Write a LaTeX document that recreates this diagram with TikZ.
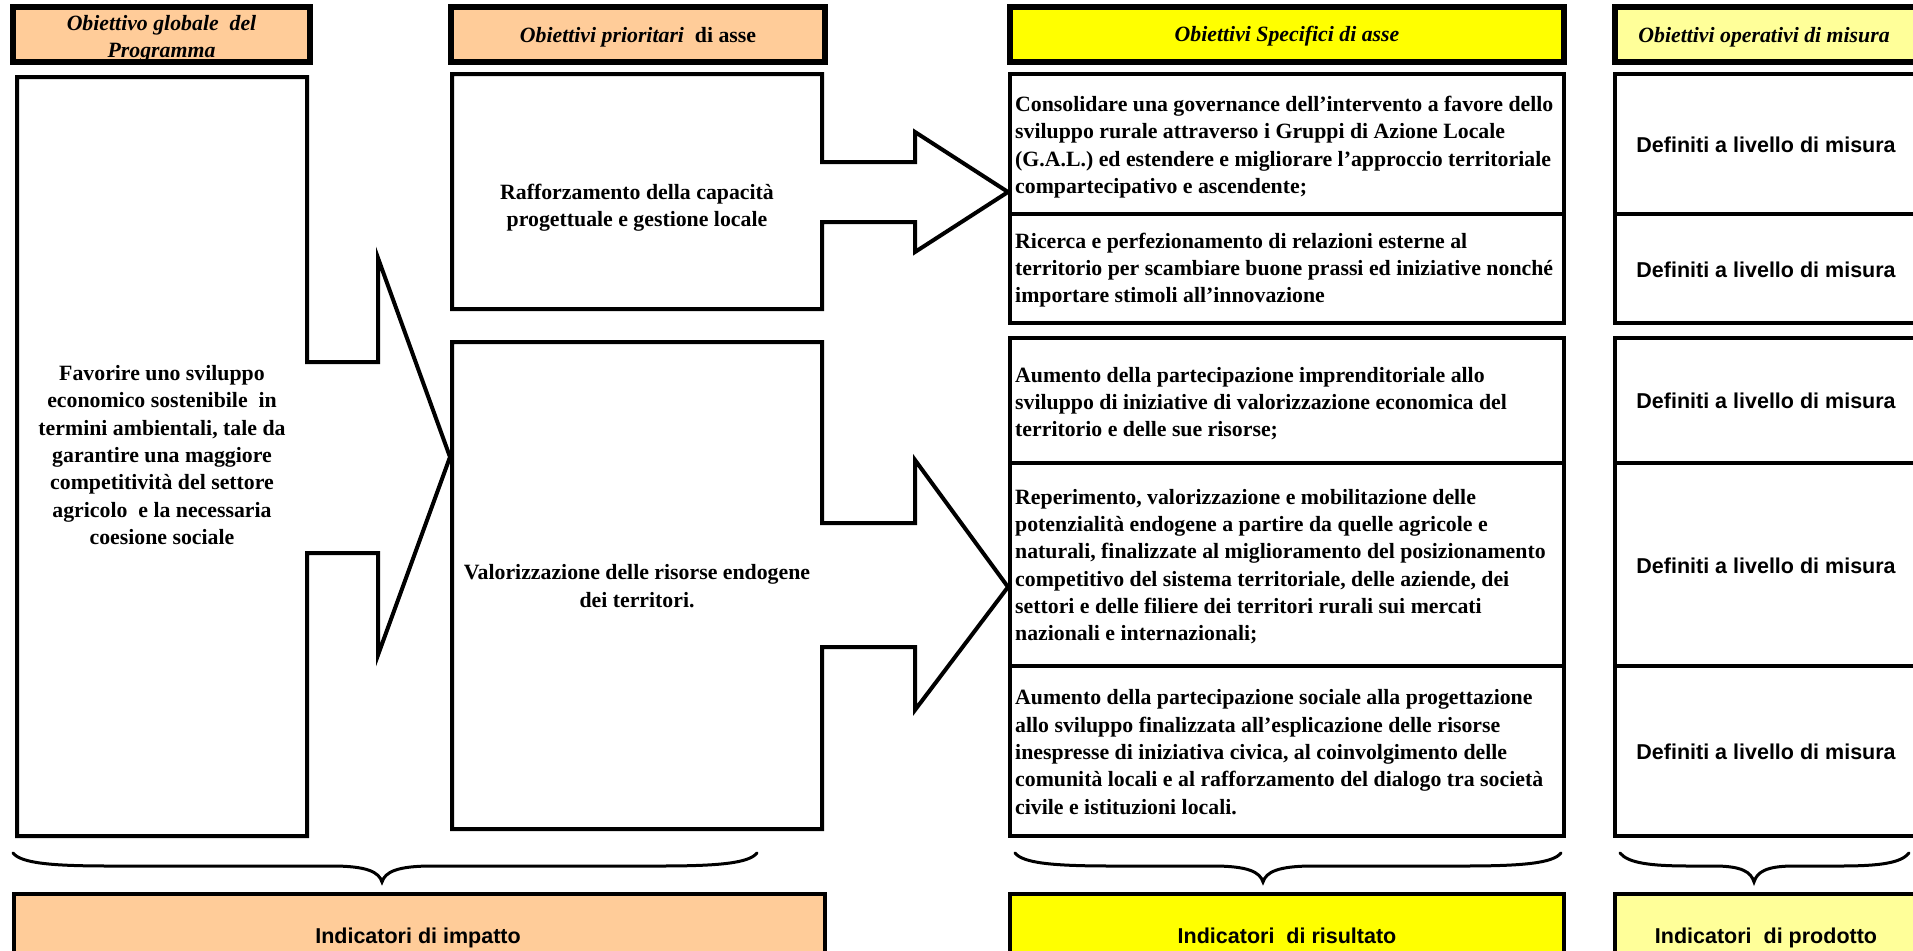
\documentclass[tikz,border=0pt]{standalone}
\usepackage{fontspec}
\setmainfont{Liberation Serif}
\newfontfamily\arialf{Liberation Sans}
\definecolor{peach}{HTML}{FFCC99}
\definecolor{yel}{HTML}{FFFF00}
\definecolor{lyel}{HTML}{FFFF99}
\tikzset{
  outline/.style={line width=4pt, line join=miter, miter limit=10},
  hdrbox/.style={draw, line width=5.5pt, inner sep=0pt, outer sep=0pt, anchor=north west},
  cellbox/.style={draw, line width=3.6pt, inner sep=0pt, outer sep=0pt, anchor=north west},
  btmbox/.style={draw, line width=4pt, inner sep=0pt, outer sep=0pt, anchor=north west},
  sertext/.style={inner sep=0pt, font=\fontsize{21.8}{27.3}\selectfont\bfseries},
  hdrtext/.style={inner sep=0pt, font=\fontsize{21.8}{27.3}\selectfont\bfseries\itshape},
  santext/.style={inner sep=0pt, font=\arialf\fontsize{21.5}{26}\selectfont\bfseries},
  bracepath/.style={line width=3pt, line cap=round}
}
\begin{document}
\begin{tikzpicture}[x=1pt, y=-1pt]
\useasboundingbox (0,0) rectangle (1913,950);
\clip (0,0) rectangle (1913,950);
\fill[white] (0,0) rectangle (1913,950);

% ---------- headers ----------
\node[hdrbox, fill=peach, minimum width=297, minimum height=55] (h1) at (13,7) {};
\node[hdrtext, align=center] (h1t) at (161.5,38.5) {Obiettivo globale~ del\\Programma};
\draw[line width=5.5pt] (h1.north west) rectangle (h1.south east);

\node[hdrbox, fill=peach, minimum width=374, minimum height=55] (h2) at (451,7) {};
\node[sertext, anchor=base] (h2t) at (638,43) {\textit{Obiettivi prioritari}~ di asse};

\node[hdrbox, fill=yel, minimum width=554, minimum height=55] (h3) at (1010,7) {};
\node[hdrtext, anchor=base] (h3t) at (1287,42) {Obiettivi Specifici di asse};

\node[hdrbox, fill=lyel, minimum width=310, minimum height=55] (h4) at (1615,7) {};
\node[hdrtext, anchor=base] (h4t) at (1764,43) {Obiettivi operativi di misura};

% ---------- left shape with block arrow ----------
\draw[outline] (17,77) coordinate (gtl) -- (307,77) -- (307,362) -- (378,362) -- (378,258)
  -- (450,457) coordinate (gtip) -- (378,655) -- (378,553) -- (307,553) -- (307,836)
  -- (17,836) -- cycle;
\node[sertext, align=center] (gtext) at (162,455) {Favorire uno sviluppo\\economico sostenibile~ in\\termini ambientali, tale da\\garantire una maggiore\\competitivit\`a del settore\\agricolo~ e la necessaria\\coesione sociale};

% ---------- priority objectives with block arrows ----------
\draw[outline] (452,74) -- (822,74) -- (822,162) -- (915,162) -- (915,132)
  -- (1008,192) coordinate (p1tip) -- (915,252) -- (915,222) -- (822,222) -- (822,309)
  -- (452,309) -- cycle;
\node[sertext, align=center] (p1text) at (637,208) {Rafforzamento della capacit\`a\\progettuale e gestione locale};

\draw[outline] (452,342) -- (822,342) -- (822,523) -- (915,523) -- (915,460)
  -- (1008,587) coordinate (p2tip) -- (915,710) -- (915,647) -- (822,647) -- (822,829)
  -- (452,829) -- cycle;
\node[sertext, align=center] (p2text) at (637,586) {Valorizzazione delle risorse endogene\\dei territori.};

% ---------- specific objectives ----------
\node[cellbox, minimum width=554, minimum height=140] (s1) at (1010,74) {};
\node[cellbox, minimum width=554, minimum height=109] (s2) at (1010,214) {};
\node[cellbox, minimum width=554, minimum height=125] (s3) at (1010,338) {};
\node[cellbox, minimum width=554, minimum height=203] (s4) at (1010,463) {};
\node[cellbox, minimum width=554, minimum height=170] (s5) at (1010,666) {};

\node[sertext, align=left, anchor=west] (s1t) at (1015,147) {Consolidare una governance dell’intervento a favore dello\\sviluppo rurale attraverso i Gruppi di Azione Locale\\(G.A.L.) ed estendere e migliorare l’approccio territoriale\\compartecipativo e ascendente;};
\node[sertext, align=left, anchor=west] (s2t) at (1015,270) {Ricerca e perfezionamento di relazioni esterne al\\territorio per scambiare buone prassi ed iniziative nonch\'e\\importare stimoli all’innovazione};
\node[sertext, align=left, anchor=west] (s3t) at (1015,403.5) {Aumento della partecipazione imprenditoriale allo\\sviluppo di iniziative di valorizzazione economica del\\territorio e delle sue risorse;};
\node[sertext, align=left, anchor=west] (s4t) at (1015,566.5) {Reperimento, valorizzazione e mobilitazione delle\\potenzialit\`a endogene a partire da quelle agricole e\\naturali, finalizzate al miglioramento del posizionamento\\competitivo del sistema territoriale, delle aziende, dei\\settori e delle filiere dei territori rurali sui mercati\\nazionali e internazionali;};
\node[sertext, align=left, anchor=west] (s5t) at (1015,752) {Aumento della partecipazione sociale alla progettazione\\allo sviluppo finalizzata all'esplicazione delle risorse\\inespresse di iniziativa civica, al coinvolgimento delle\\comunit\`a locali e al rafforzamento del dialogo tra societ\`a\\civile e istituzioni locali.};

% ---------- operational objectives ----------
\node[cellbox, minimum width=310, minimum height=140] (o1) at (1615,74) {};
\node[cellbox, minimum width=310, minimum height=109] (o2) at (1615,214) {};
\node[cellbox, minimum width=310, minimum height=125] (o3) at (1615,338) {};
\node[cellbox, minimum width=310, minimum height=203] (o4) at (1615,463) {};
\node[cellbox, minimum width=310, minimum height=170] (o5) at (1615,666) {};
\node[santext, anchor=base] (o1t) at (1766,152) {Definiti a livello di misura};
\node[santext, anchor=base] (o2t) at (1766,277) {Definiti a livello di misura};
\node[santext, anchor=base] (o3t) at (1766,408) {Definiti a livello di misura};
\node[santext, anchor=base] (o4t) at (1766,573) {Definiti a livello di misura};
\node[santext, anchor=base] (o5t) at (1766,759) {Definiti a livello di misura};

% ---------- braces ----------
\draw[bracepath] (13,853) .. controls (21,863) and (50,866) .. (110,866) -- (332,866)
  .. controls (367,866) and (379,872) .. (382,882) coordinate (b1tip)
  .. controls (385,872) and (397,866) .. (432,866) -- (660,866)
  .. controls (720,866) and (749,863) .. (757,853);
\draw[bracepath] (1015,853) .. controls (1023,863) and (1052,866) .. (1112,866) -- (1213,866)
  .. controls (1248,866) and (1260,872) .. (1263,882) coordinate (b2tip)
  .. controls (1266,872) and (1278,866) .. (1313,866) -- (1464,866)
  .. controls (1524,866) and (1553,863) .. (1561,853);
\draw[bracepath] (1620,853) .. controls (1628,863) and (1650,866) .. (1690,866) -- (1714,866)
  .. controls (1742,866) and (1751,872) .. (1754,882) coordinate (b3tip)
  .. controls (1757,872) and (1766,866) .. (1794,866) -- (1840,866)
  .. controls (1880,866) and (1901,863) .. (1909,853);

% ---------- indicators ----------
\node[btmbox, fill=peach, minimum width=811, minimum height=70] (i1) at (14,894) {};
\node[btmbox, fill=yel, minimum width=554, minimum height=70] (i2) at (1010,894) {};
\node[btmbox, fill=lyel, minimum width=310, minimum height=70] (i3) at (1615,894) {};
\node[santext, anchor=base] (i1t) at (418,943) {Indicatori di impatto};
\node[santext, anchor=base] (i2t) at (1287,943) {Indicatori~ di risultato};
\node[santext, anchor=base] (i3t) at (1766,943) {Indicatori~ di prodotto};
\end{tikzpicture}
\end{document}
